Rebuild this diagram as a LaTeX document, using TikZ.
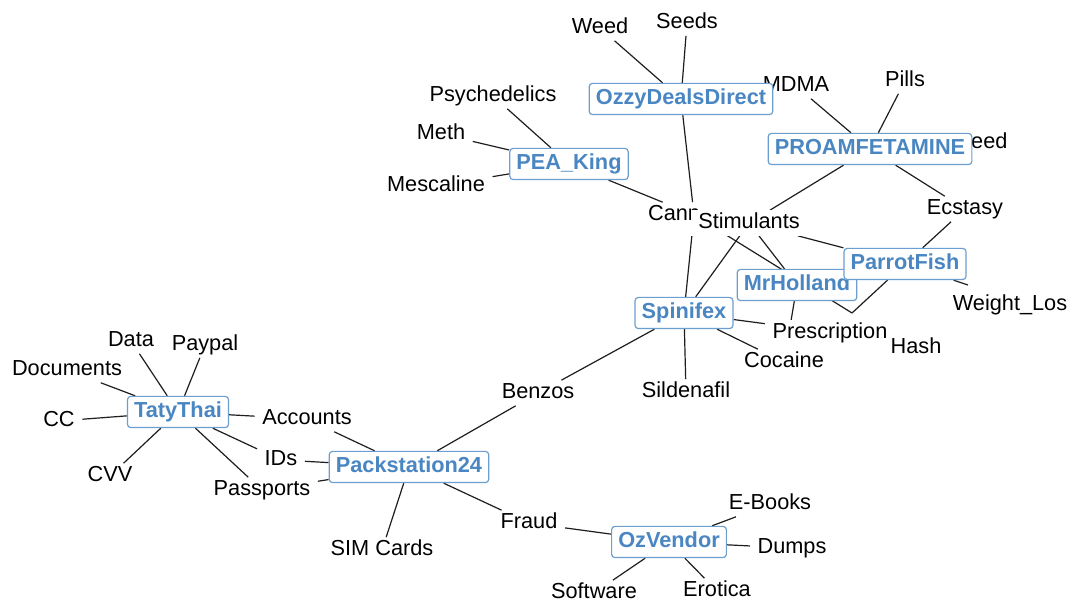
\documentclass[tikz,border=0pt]{standalone}
\usepackage{fontspec}
\setmainfont{Liberation Sans}
\usepackage{tikz}
\usetikzlibrary{backgrounds}
\definecolor{vendorblue}{HTML}{4A86C2}
\definecolor{vendorline}{HTML}{6C9FD0}
\definecolor{edgegray}{HTML}{1E1E1E}

\tikzset{
  item/.style={font=\fontsize{16.3}{19}\selectfont, text height=12.2pt, text depth=3.6pt,
    inner xsep=5.5pt, inner ysep=1.5pt},
  itemw/.style={item, fill=white},
  vendor/.style={item, draw=vendorline, fill=white, text=vendorblue,
    font=\fontsize{16.3}{19}\selectfont\bfseries, rounded corners=2.5pt,
    line width=0.9pt, inner xsep=5pt, inner ysep=3.8pt},
  link/.style={draw=edgegray, line width=0.9pt},
}

\begin{document}
\begin{tikzpicture}[x=0.75pt, y=-0.75pt]
  \useasboundingbox (0,-2) rectangle (1082,603);

  % products and categories
  \node[item] (weed) at (600,26) {Weed};
  \node[item] (seeds) at (687,21) {Seeds};
  \node[item] (psyche) at (493,94) {Psychedelics};
  \node[item] (meth) at (441,132) {Meth};
  \node[item] (mescaline) at (436,184) {Mescaline};
  \node[item] (cannabis) at (694,213) {\rlap{Cann}\phantom{Cannabis}};
  \node[itemw] (stimulants) at (749,221) {Stimulants};
  \node[item] (mdma) at (796,84) {MDMA};
  \node[item] (pills) at (905,79) {Pills};
  \node[item] (speed) at (976,141) {\phantom{Sp}eed};
  \node[item] (ecstasy) at (965,207) {Ecstasy};
  \node[item] (wloss) at (1010,303) {Weight\_Los};
  \node[itemw] (prescription) at (830,331) {Prescription};
  \node[item] (hash) at (916,346) {Hash};
  \node[item] (cocaine) at (784,360) {Cocaine};
  \node[item] (sildenafil) at (686,390) {Sildenafil};
  \node[item] (benzos) at (538,391) {Benzos};
  \node[item] (data) at (131,339) {Data};
  \node[item] (paypal) at (205,343) {Paypal};
  \node[item] (documents) at (67,368) {Documents};
  \node[item] (cc) at (59,419) {CC};
  \node[item] (cvv) at (110,474) {CVV};
  \node[item] (accounts) at (307,417) {Accounts};
  \node[item] (ids) at (281,458) {IDs};
  \node[item] (passports) at (262,488) {Passports};
  \node[item] (simcards) at (382,548) {SIM Cards};
  \node[item] (fraud) at (529,521) {Fraud};
  \node[item] (ebooks) at (770,502) {E-Books};
  \node[item] (dumps) at (792,546) {Dumps};
  \node[item] (software) at (594,591) {Software};
  \node[item] (erotica) at (717,589) {Erotica};

  \coordinate (hashpt) at (852,311);
  \coordinate (prescpt) at (790,325);
  \coordinate (wlosspt) at (968,283);

  % vendors
  \node[vendor] (ozzy) at (681,97) {OzzyDealsDirect};
  \node[vendor] (peaking) at (569,162) {PEA\_King};
  \node[vendor] (proam) at (870,147) {PROAMFETAMINE};
  \node[vendor] (mrholland) at (797,283) {MrHolland};
  \node[vendor] (parrotfish) at (905,262) {ParrotFish};
  \node[vendor] (spinifex) at (684,311) {Spinifex};
  \node[vendor] (tatythai) at (178,410) {TatyThai};
  \node[vendor] (packstation) at (409,465) {Packstation24};
  \node[vendor] (ozvendor) at (669,540) {OzVendor};

  \begin{scope}[on background layer]
    \fill[white] (0,-2) rectangle (1082,603);
    \foreach \t in {weed,seeds,cannabis}
      \draw[link] (ozzy) -- (\t);
    \foreach \t in {psyche,meth,mescaline,cannabis}
      \draw[link] (peaking) -- (\t);
    \foreach \t in {mdma,pills,stimulants,ecstasy}
      \draw[link] (proam) -- (\t);
    \foreach \t in {stimulants,ecstasy,hashpt,wlosspt}
      \draw[link] (parrotfish) -- (\t);
    \foreach \t in {stimulants,prescpt}
      \draw[link] (mrholland) -- (\t);
    \draw[link] (cannabis) -- (hashpt);
    \foreach \t in {stimulants,cannabis,benzos,prescpt,cocaine,sildenafil}
      \draw[link] (spinifex) -- (\t);
    \foreach \t in {benzos,accounts,ids,passports,simcards,fraud}
      \draw[link] (packstation) -- (\t);
    \foreach \t in {data,paypal,documents,cc,cvv,accounts,ids,passports}
      \draw[link] (tatythai) -- (\t);
    \foreach \t in {fraud,ebooks,dumps,software,erotica}
      \draw[link] (ozvendor) -- (\t);
  \end{scope}
\end{tikzpicture}
\end{document}
